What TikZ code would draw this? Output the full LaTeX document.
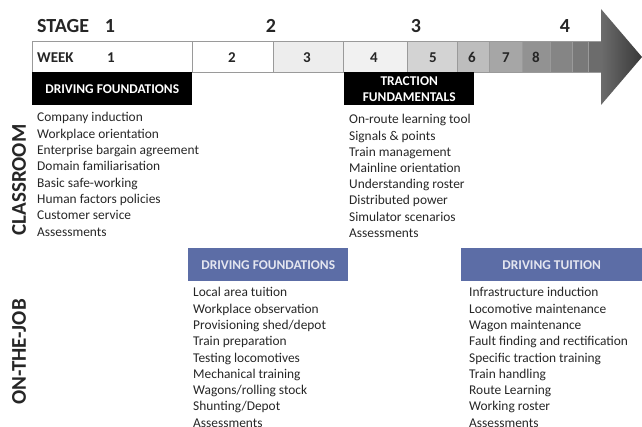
\documentclass[tikz,border=0pt]{standalone}
\usepackage{fontspec}
\setmainfont{Carlito}
\definecolor{txt}{HTML}{262626}
\definecolor{rule}{HTML}{9A9A9A}
\definecolor{hdrblue}{HTML}{5C6DA6}
\definecolor{hdrtxt}{HTML}{E4E6F0}
\definecolor{wk3}{HTML}{EDEDED}
\definecolor{wk4}{HTML}{F1F1F1}
\definecolor{wk5}{HTML}{D3D3D3}
\definecolor{wk6}{HTML}{BDBDBD}
\definecolor{wk7}{HTML}{A6A6A6}
\definecolor{wk8}{HTML}{929292}
\definecolor{wk9}{HTML}{858585}
\definecolor{wk10}{HTML}{797979}
\definecolor{wk11}{HTML}{6C6C6C}
\begin{document}
\begin{tikzpicture}[x=1pt,y=-1pt,
  item/.style={anchor=base west,inner sep=0pt,font=\fontsize{13.4}{16}\selectfont,text=txt},
  stagetxt/.style={anchor=base,inner sep=0pt,font=\fontsize{20}{22}\selectfont\bfseries,text=txt},
  weektxt/.style={anchor=base,inner sep=0pt,font=\fontsize{15}{17}\selectfont\bfseries,text=txt},
  blackhdr/.style={fill=black,draw=none,text=white,font=\fontsize{13.4}{16}\selectfont\bfseries,align=center,inner sep=0pt},
  bluehdr/.style={fill=hdrblue,draw=none,text=hdrtxt,font=\fontsize{13.4}{16}\selectfont\bfseries,inner sep=0pt},
  sidetxt/.style={rotate=90,inner sep=0pt,font=\fontsize{21}{23}\selectfont\bfseries,text=txt},
  cell/.style={draw=rule,line width=0.6pt}]
\useasboundingbox (0,0) rectangle (642,427);
\begin{scope}
\clip (0,0) rectangle (642,427);

% timeline bar: one cell per week, getting darker towards the arrow
\fill[white]  (32,41) rectangle (192,72);
\fill[white]  (192,41) rectangle (273,72);
\fill[wk3]    (273,41) rectangle (343,72);
\fill[wk4]    (343,41) rectangle (407,72);
\fill[wk5]    (407,41) rectangle (457,72);
\fill[wk6]    (457,41) rectangle (489,72);
\fill[wk7]    (489,41) rectangle (522,72);
\fill[wk8]    (522,41) rectangle (550,72);
\fill[wk9]    (550,41) rectangle (572,72);
\fill[wk10]   (572,41) rectangle (588,72);
\fill[wk11]   (588,41) rectangle (602,72);
\foreach \a/\b in {32/192,192/273,273/343,343/407,407/457,457/489,489/522,522/550,550/572,572/588,588/602}
  \draw[cell] (\a,41) rectangle (\b,72);
% arrow head
\shade[left color=wk11,right color=black!78,draw=none]
  (601,9) -- (642,57) -- (601,105) -- cycle;

% stage row
\node[stagetxt,anchor=base west] (stage) at (37,33) {STAGE};
\node[stagetxt] (s1) at (110,33) {1};
\node[stagetxt] (s2) at (271,33) {2};
\node[stagetxt] (s3) at (416,33) {3};
\node[stagetxt] (s4) at (565,33) {4};

% week row
\node[weektxt,anchor=base west] (week) at (37,62.5) {WEEK};
\foreach \n/\x in {1/111,2/232,3/307,4/374,5/433,6/472,7/506,8/536}
  \node[weektxt] (w\n) at (\x,62.5) {\n};

% classroom modules
\node[blackhdr,minimum width=160pt,minimum height=33pt,anchor=north west] (cdf) at (32,72) {DRIVING FOUNDATIONS};
\node[blackhdr,minimum width=130pt,minimum height=33pt,anchor=north west] (ctf) at (344,72)
  {\fontsize{13.4}{16.5}\selectfont TRACTION\\FUNDAMENTALS};

\foreach \t [count=\i from 0] in {Company induction,Workplace orientation,Enterprise bargain agreement,Domain familiarisation,Basic safe-working,Human factors policies,Customer service,Assessments}
  \node[item] (cl\i) at (37,122+16.3*\i) {\t};

\foreach \t [count=\i from 0] in {On-route learning tool,Signals \& points,Train management,Mainline orientation,Understanding roster,Distributed power,Simulator scenarios,Assessments}
  \node[item] (ct\i) at (349,124+16.2*\i) {\t};

% on-the-job modules
\node[bluehdr,minimum width=160pt,minimum height=33pt,anchor=north west] (odf) at (188,248) {DRIVING FOUNDATIONS};
\node[bluehdr,minimum width=181pt,minimum height=33pt,anchor=north west] (odt) at (461,248) {DRIVING TUITION};

\foreach \t [count=\i from 0] in {Local area tuition,Workplace observation,Provisioning shed/depot,Train preparation,Testing locomotives,Mechanical training,Wagons/rolling stock,Shunting/Depot,Assessments}
  \node[item] (ol\i) at (193,297+16.25*\i) {\t};

\foreach \t [count=\i from 0] in {Infrastructure induction,Locomotive maintenance,Wagon maintenance,Fault finding and rectification,Specific traction training,Train handling,Route Learning,Working roster,Assessments}
  \node[item] (ot\i) at (469,297+16.25*\i) {\t};

% row labels
\node[sidetxt] (classroom) at (19,180) {CLASSROOM};
\node[sidetxt] (onjob) at (19,352) {ON-THE-JOB};
\end{scope}
\end{tikzpicture}
\end{document}
